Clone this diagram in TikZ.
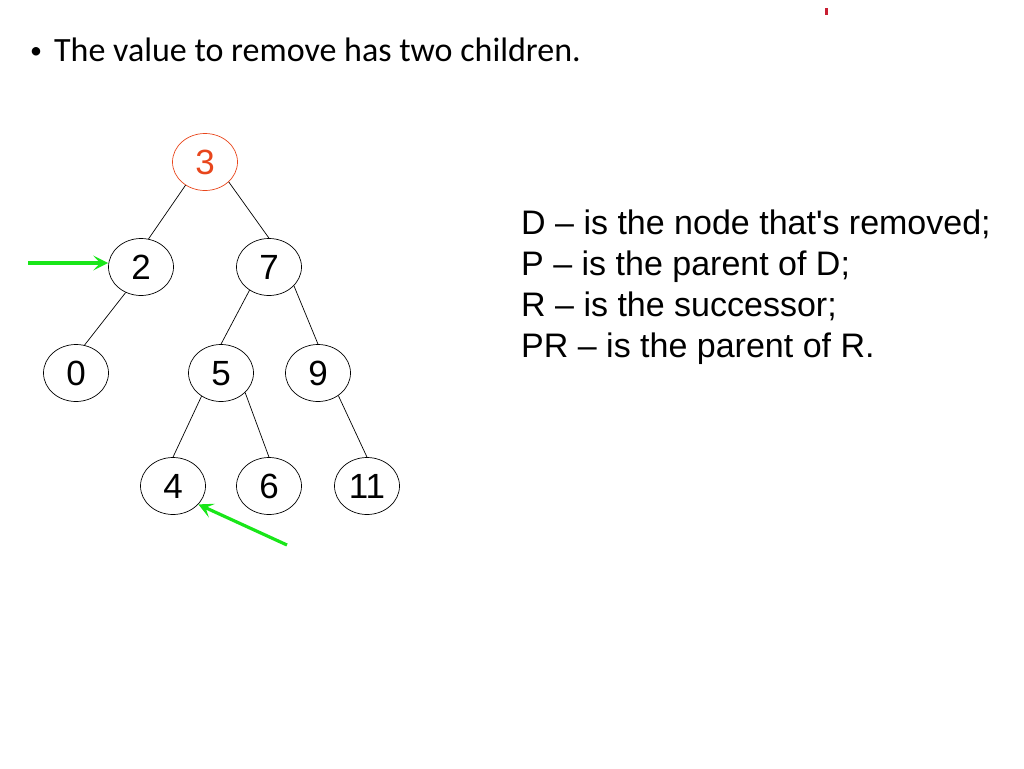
\documentclass[tikz,border=0pt]{standalone}
\usepackage{fontspec}
\setmainfont{Liberation Sans}
\newfontfamily\calfont{Carlito}
\usetikzlibrary{shapes.geometric,arrows.meta}
\definecolor{delred}{RGB}{232,70,28}
\definecolor{markred}{RGB}{200,30,50}
\definecolor{arrgreen}{RGB}{25,230,25}
\tikzset{
  tnode/.style={ellipse,draw=black,line width=0.7pt,minimum width=65pt,minimum height=57pt,inner sep=0pt,text height=25pt,text depth=0pt,font=\fontsize{35}{35}\selectfont},
  rednode/.style={tnode,draw=delred,text=delred},
  tedge/.style={draw=black,line width=0.7pt},
  pointer/.style={draw=arrgreen,line width=3.2pt,-{Stealth[length=15pt,width=15pt,inset=7pt]}},
  legend/.style={anchor=west,font=\fontsize{34}{41}\selectfont,align=left,inner sep=0pt}
}
\begin{document}
\begin{tikzpicture}[x=1pt,y=-1pt]
\useasboundingbox (0,0) rectangle (1024,768);
% stray red mark
\fill[markred] (825,8) rectangle (828,15);
% title bullet
\node[anchor=base west,inner sep=0pt,font=\calfont\fontsize{34}{34}\selectfont] (title) at (30,61) {{\fontsize{24}{24}\selectfont\raisebox{2pt}{\textbullet}}\hspace{12pt}The value to remove has two children.};
% tree nodes
\node[rednode] (n3) at (205,162) {3};
\node[tnode] (n2) at (141,267) {2};
\node[tnode] (n7) at (269,267) {7};
\node[tnode] (n0) at (76,373) {0};
\node[tnode] (n5) at (221,373) {5};
\node[tnode] (n9) at (318,373) {9};
\node[tnode] (n4) at (173,486) {4};
\node[tnode] (n6) at (269,486) {6};
\node[tnode] (n11) at (367,486) {11};
% edges
\draw[tedge] (n3.230) -- (n2.75);
\draw[tedge] (n3.320) -- (n7.90);
\draw[tedge] (n2.239) -- (n0.73);
\draw[tedge] (n7.230) -- (n5.90);
\draw[tedge] (n7.323) -- (n9.90);
\draw[tedge] (n5.230) -- (n4.90);
\draw[tedge] (n5.321) -- (n6.90);
\draw[tedge] (n9.312) -- (n11.90);
% green pointers
\coordinate (pa) at (28,263);
\coordinate (pb) at (287,545);
\draw[pointer] (pa) -- (pa -| n2.west);
\draw[pointer] (pb) -- (n4.-36);
% legend
\node[legend] (leg) at (521,287) {D -- is the node that\textquotesingle s removed;\\P -- is the parent of D;\\R -- is the successor;\\PR -- is the parent of R.};
\end{tikzpicture}
\end{document}
